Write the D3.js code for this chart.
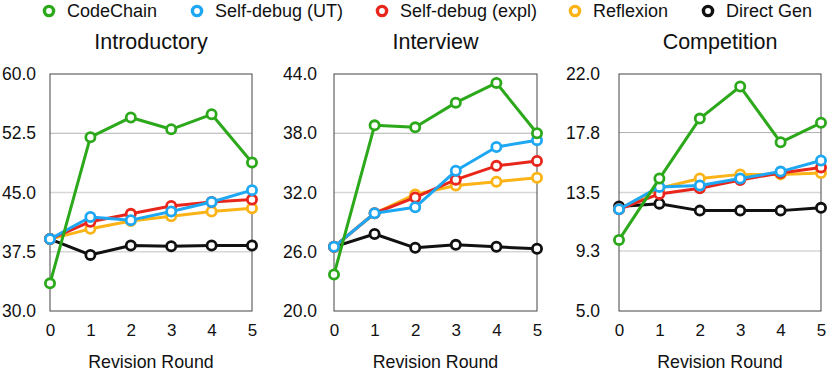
<!DOCTYPE html>
<html>
<head>
<meta charset="utf-8">
<script src="https://cdn.jsdelivr.net/npm/d3@7"></script>
<style>
  body { margin: 0; background: #fff; }
  svg { display: block; font-family: "Liberation Sans", Arial, Helvetica, sans-serif; }
</style>
</head>
<body>
<svg width="830" height="373"></svg>
<script>
// revision rounds on the x axis
var rounds = [0, 1, 2, 3, 4, 5];

var seriesNames = ["CodeChain", "Self-debug (UT)", "Self-debug (expl)", "Reflexion", "Direct Gen"];
var seriesColors = ["#2ca81b", "#1ea7f2", "#e8261c", "#fbb316", "#111111"];

var panelTitles = ["Introductory", "Interview", "Competition"];

// y tick labels per panel
var introTicks = [30.0, 37.5, 45.0, 52.5, 60.0];
var interviewTicks = [20.0, 26.0, 32.0, 38.0, 44.0];
var compTicks = [5.0, 9.3, 13.5, 17.8, 22.0];

// Introductory
var introCodeChain = [33.5, 52.0, 54.5, 53.0, 54.9, 48.8];
var introSelfUT    = [39.1, 41.9, 41.5, 42.6, 43.8, 45.3];
var introSelfExpl  = [39.1, 41.3, 42.3, 43.3, 43.8, 44.1];
var introReflexion = [39.1, 40.4, 41.4, 42.0, 42.6, 43.0];
var introDirect    = [39.1, 37.1, 38.3, 38.2, 38.3, 38.3];

// Interview
var intvCodeChain = [23.7, 38.8, 38.6, 41.1, 43.1, 38.0];
var intvSelfUT    = [26.5, 29.9, 30.5, 34.2, 36.6, 37.3];
var intvSelfExpl  = [26.5, 29.9, 31.5, 33.3, 34.7, 35.2];
var intvReflexion = [26.5, 29.9, 31.8, 32.7, 33.1, 33.5];
var intvDirect    = [26.5, 27.8, 26.4, 26.7, 26.5, 26.3];

// Competition
var compCodeChain = [10.1, 14.5, 18.8, 21.1, 17.1, 18.5];
var compSelfUT    = [12.3, 13.9, 14.0, 14.5, 15.0, 15.8];
var compSelfExpl  = [12.3, 13.4, 13.8, 14.4, 14.9, 15.3];
var compReflexion = [12.3, 13.8, 14.5, 14.8, 14.8, 14.9];
var compDirect    = [12.5, 12.7, 12.2, 12.2, 12.2, 12.4];

var panels = [
  { title: panelTitles[0], ticks: introTicks, left: 50, right: 252, gap: 14,
    values: [introCodeChain, introSelfUT, introSelfExpl, introReflexion, introDirect] },
  { title: panelTitles[1], ticks: interviewTicks, left: 334, right: 537, gap: 17,
    values: [intvCodeChain, intvSelfUT, intvSelfExpl, intvReflexion, intvDirect] },
  { title: panelTitles[2], ticks: compTicks, left: 619, right: 821, gap: 19,
    values: [compCodeChain, compSelfUT, compSelfExpl, compReflexion, compDirect] }
];

var svg = d3.select("svg");
var plotTop = 74, plotBottom = 311;

// legend
var legendX = [49, 197, 382, 575, 708];
var legend = svg.append("g");
seriesNames.forEach(function(name, i) {
  legend.append("circle")
    .attr("cx", legendX[i]).attr("cy", 11).attr("r", 4.6)
    .attr("fill", "#fff").attr("stroke", seriesColors[i]).attr("stroke-width", 3.4);
  legend.append("text")
    .attr("x", legendX[i] + 18).attr("y", 11).attr("dy", "0.36em")
    .attr("font-size", "18px").attr("fill", "#111")
    .text(name);
});

// draw order: black, orange, red, blue, green on top
var drawOrder = [4, 3, 2, 1, 0];

panels.forEach(function(p) {
  var x = d3.scaleLinear().domain([0, 5]).range([p.left, p.right]);
  var y = d3.scaleLinear().domain([p.ticks[0], p.ticks[p.ticks.length - 1]]).range([plotBottom, plotTop]);
  var g = svg.append("g");

  g.append("text")
    .attr("x", (p.left + p.right) / 2).attr("y", 41).attr("dy", "0.36em")
    .attr("text-anchor", "middle").attr("font-size", "21.5px").attr("fill", "#111")
    .text(p.title);

  // grid lines on inner ticks
  g.selectAll(".grid")
    .data(p.ticks.slice(1, -1))
    .enter().append("line")
    .attr("x1", p.left).attr("x2", p.right)
    .attr("y1", function(d) { return y(d); })
    .attr("y2", function(d) { return y(d); })
    .attr("stroke", function(d, i) { return i == 2 ? "#b0b0b0" : "#d6d6d6"; })
    .attr("stroke-width", function(d, i) { return i == 2 ? 1 : 1.6; });

  g.append("rect")
    .attr("x", p.left).attr("y", plotTop)
    .attr("width", p.right - p.left).attr("height", plotBottom - plotTop)
    .attr("fill", "none").attr("stroke", "#444").attr("stroke-width", 1);

  // y axis labels
  var yAxis = d3.axisLeft(y).tickValues(p.ticks).tickSize(0).tickPadding(p.gap)
    .tickFormat(d3.format(".1f"));
  var ya = g.append("g").attr("transform", "translate(" + p.left + ",0)").call(yAxis);
  ya.select(".domain").remove();
  ya.selectAll("text").attr("font-size", "17.5px").attr("fill", "#111")
    .attr("font-family", "Liberation Sans, Arial, sans-serif");

  // x axis labels
  var xAxis = d3.axisBottom(x).tickValues(rounds).tickSize(0).tickPadding(13)
    .tickFormat(d3.format("d"));
  var xa = g.append("g").attr("transform", "translate(0," + plotBottom + ")").call(xAxis);
  xa.select(".domain").remove();
  xa.selectAll("text").attr("font-size", "17px").attr("fill", "#111")
    .attr("font-family", "Liberation Sans, Arial, sans-serif");

  g.append("text")
    .attr("x", (p.left + p.right) / 2).attr("y", 362).attr("dy", "0.36em")
    .attr("text-anchor", "middle").attr("font-size", "17.8px").attr("fill", "#111")
    .text("Revision Round");

  var line = d3.line()
    .x(function(d, i) { return x(rounds[i]); })
    .y(function(d) { return y(d); });

  drawOrder.forEach(function(si) {
    var s = g.append("g");
    s.append("path")
      .datum(p.values[si])
      .attr("d", line)
      .attr("fill", "none")
      .attr("stroke", seriesColors[si])
      .attr("stroke-width", 3)
      .attr("stroke-linejoin", "round");
    s.selectAll("circle")
      .data(p.values[si])
      .enter().append("circle")
      .attr("cx", function(d, i) { return x(rounds[i]); })
      .attr("cy", function(d) { return y(d); })
      .attr("r", 4.6)
      .attr("fill", "#fff")
      .attr("stroke", seriesColors[si])
      .attr("stroke-width", 2.8);
  });
});
</script>
</body>
</html>
